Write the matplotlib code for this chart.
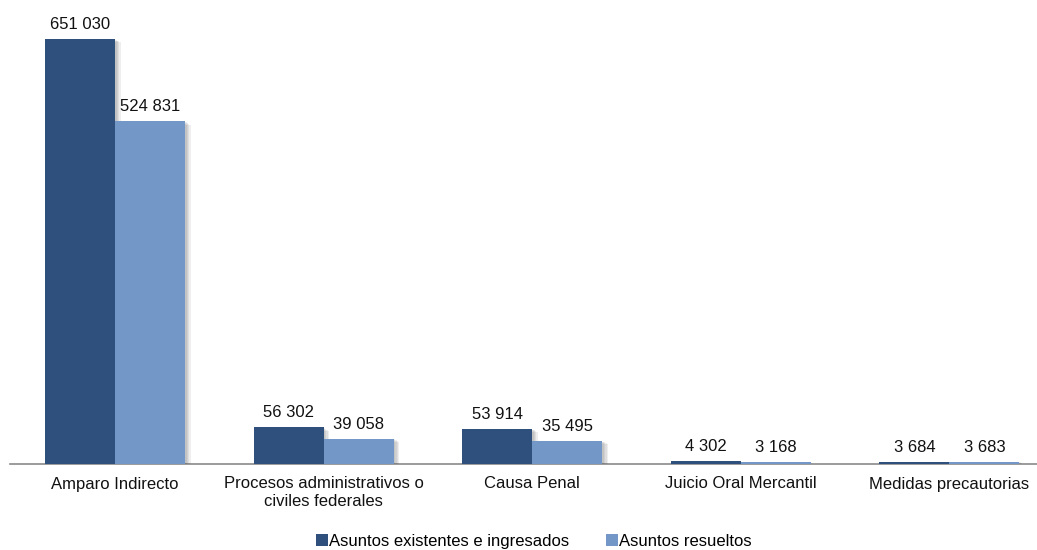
import matplotlib
matplotlib.use("Agg")
import matplotlib.pyplot as plt
import matplotlib.patheffects as pe
from matplotlib.patches import Patch
import numpy as np

plt.rcParams['font.family'] = ['Liberation Sans', 'DejaVu Sans']

categories = [
    "Amparo Indirecto",
    "Procesos administrativos o\nciviles federales",
    "Causa Penal",
    "Juicio Oral Mercantil",
    "Medidas precautorias",
]
existentes = [651030, 56302, 53914, 4302, 3684]
resueltos = [524831, 39058, 35495, 3168, 3683]
series_names = ["Asuntos existentes e ingresados", "Asuntos resueltos"]

dark = "#2F507D"
light = "#7398C7"

fig = plt.figure(figsize=(10.37, 5.5), dpi=100)
ax = fig.add_axes([10 / 1037, 86 / 550, 1027 / 1037, 454 / 550])

x = np.arange(len(categories))
w = 0.336

# soft drop shadow built from a few stacked translucent offsets
shadow = [pe.SimplePatchShadow(offset=(d, -d * 0.6), shadow_rgbFace="#444444", alpha=0.09)
          for d in (1, 2, 3, 4)] + [pe.Normal()]

b1 = ax.bar(x - w / 2, existentes, w, color=dark, path_effects=shadow, zorder=3)
b2 = ax.bar(x + w / 2, resueltos, w, color=light, path_effects=shadow, zorder=3)


def fmt(v):
    return f"{v:,}".replace(",", " ")


for bars, vals in ((b1, existentes), (b2, resueltos)):
    for rect, v in zip(bars, vals):
        ax.annotate(fmt(v), (rect.get_x() + rect.get_width() / 2, v),
                    xytext=(0, 5), textcoords="offset points",
                    ha="center", va="bottom", fontsize=12, color="#111111")

ax.set_xlim(-0.504, 4.42)
ax.set_ylim(0, 695445)
ax.set_xticks(x)
ax.set_xticklabels(categories, fontsize=12, color="#111111", linespacing=1.25)
ax.tick_params(axis="x", length=0, pad=9)
ax.set_yticks([])
for s in ("top", "right", "left"):
    ax.spines[s].set_visible(False)
ax.spines["bottom"].set_color("#8a8a8a")
ax.spines["bottom"].set_linewidth(1.2)

handles = [Patch(facecolor=dark), Patch(facecolor=light)]
fig.legend(handles=handles, labels=series_names, loc="lower center",
           bbox_to_anchor=(0.515, -0.025), ncol=2, frameon=False, fontsize=12,
           handlelength=0.7, handleheight=0.7, handletextpad=0.1, columnspacing=2.2)

fig.savefig("out.png", dpi=100)
